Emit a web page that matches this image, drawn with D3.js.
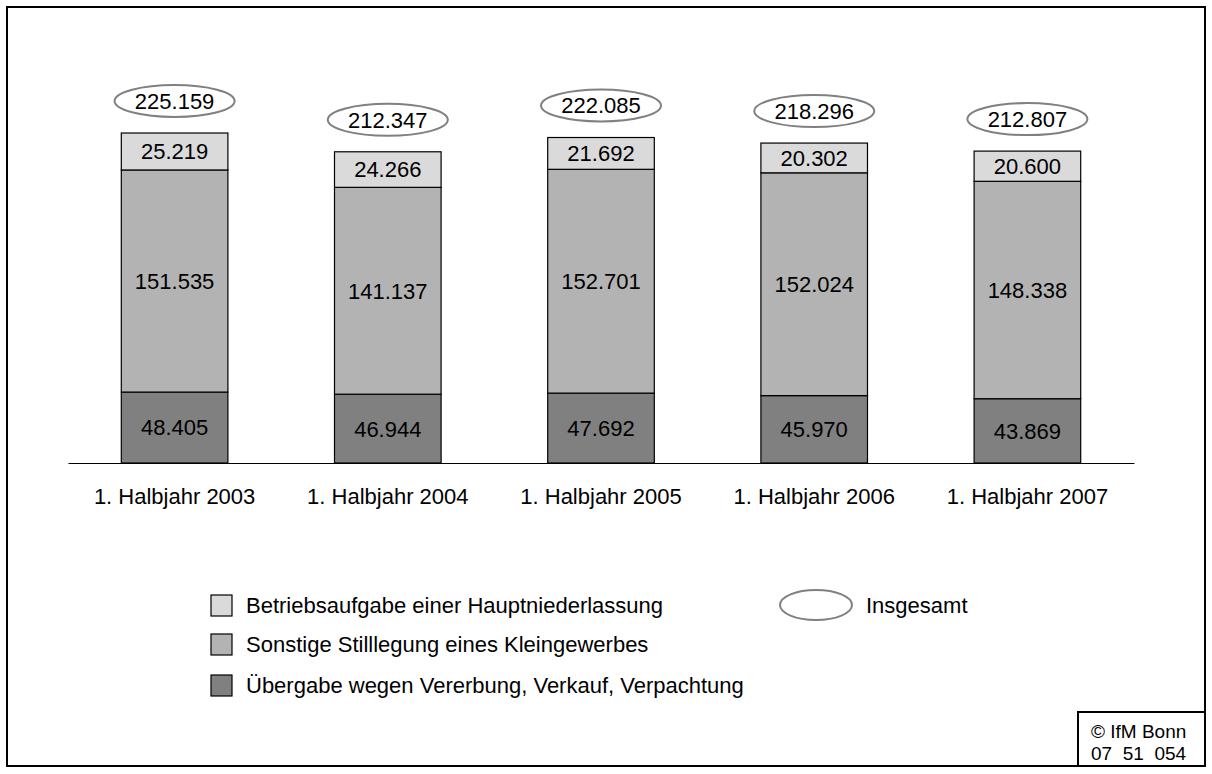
<!DOCTYPE html>
<html>
<head>
<meta charset="utf-8">
<script src="https://cdn.jsdelivr.net/npm/d3@7"></script>
<style>
  body { margin: 0; background: #fff; }
  text { font-family: "Liberation Sans", Arial, sans-serif; fill: #000; }
</style>
</head>
<body>
<div id="chart"></div>
<script>
// Gewerbeabmeldungen, 1. Halbjahr 2003-2007
var periods = ["1. Halbjahr 2003", "1. Halbjahr 2004", "1. Halbjahr 2005", "1. Halbjahr 2006", "1. Halbjahr 2007"];
var uebergabe = [48405, 46944, 47692, 45970, 43869];
var sonstige = [151535, 141137, 152701, 152024, 148338];
var betriebsaufgabe = [25219, 24266, 21692, 20302, 20600];
var insgesamt = [225159, 212347, 222085, 218296, 212807];

var seriesNames = ["Betriebsaufgabe einer Hauptniederlassung", "Sonstige Stilllegung eines Kleingewerbes", "Übergabe wegen Vererbung, Verkauf, Verpachtung"];
var colors = ["#dadada", "#b3b3b3", "#808080"];

var de = d3.formatLocale({decimal: ",", thousands: ".", grouping: [3], currency: ["", " €"]});
var fmt = de.format(",d");

var W = 1212, H = 774;
var FS = "22px";
var svg = d3.select("#chart").append("svg")
  .attr("width", W)
  .attr("height", H);

// Rahmen
svg.append("rect")
  .attr("x", 7).attr("y", 7)
  .attr("width", 1198).attr("height", 759)
  .attr("fill", "none").attr("stroke", "#000").attr("stroke-width", 2);

var x = d3.scaleBand()
  .domain(periods)
  .range([68, 1134])
  .paddingInner(0.5)
  .paddingOuter(0.25);

var y = d3.scaleLinear()
  .domain([0, 250000])
  .range([463, 463 - 366.4]);

// Stapel: unten Übergabe, dann Sonstige, oben Betriebsaufgabe
var rows = periods.map(function(p, i) {
  return {period: p, dark: uebergabe[i], mid: sonstige[i], light: betriebsaufgabe[i], total: insgesamt[i]};
});
var stack = d3.stack().keys(["dark", "mid", "light"]);
var layers = stack(rows);
var layerColor = {dark: colors[2], mid: colors[1], light: colors[0]};

var g = svg.append("g");

layers.forEach(function(layer) {
  var grp = g.append("g");
  grp.selectAll("rect")
    .data(layer)
    .enter().append("rect")
    .attr("x", d => x(d.data.period))
    .attr("y", d => y(d[1]))
    .attr("width", x.bandwidth())
    .attr("height", d => y(d[0]) - y(d[1]))
    .attr("fill", layerColor[layer.key])
    .attr("stroke", "#000")
    .attr("stroke-width", 1.2);

  grp.selectAll("text")
    .data(layer)
    .enter().append("text")
    .attr("x", d => x(d.data.period) + x.bandwidth() / 2)
    .attr("y", d => (y(d[0]) + y(d[1])) / 2)
    .attr("dy", "0.36em")
    .attr("text-anchor", "middle")
    .style("font-size", FS)
    .text(d => fmt(d[1] - d[0]));
});

// Insgesamt-Ellipsen
var tot = g.selectAll(".tot")
  .data(rows)
  .enter().append("g")
  .attr("class", "tot")
  .attr("transform", d => "translate(" + (x(d.period) + x.bandwidth() / 2) + "," + (y(d.total) - 32) + ")");

tot.append("ellipse")
  .attr("rx", 60).attr("ry", 16)
  .attr("fill", "#fff")
  .attr("stroke", "#808080")
  .attr("stroke-width", 2);

tot.append("text")
  .attr("text-anchor", "middle")
  .attr("dy", "0.36em")
  .style("font-size", FS)
  .text(d => fmt(d.total));

// Achse
var axis = d3.axisBottom(x).tickSize(0).tickPadding(25);
var ax = svg.append("g")
  .attr("transform", "translate(0,463)")
  .call(axis);
ax.select(".domain").attr("stroke", "#000").attr("stroke-width", 1.2);
ax.selectAll("text")
  .style("font-size", FS)
  .style("font-family", "'Liberation Sans', Arial, sans-serif")
  .attr("fill", "#000");

// Legende
var leg = svg.append("g");
var legY = [605, 644, 685];
seriesNames.forEach(function(name, i) {
  leg.append("rect")
    .attr("x", 211).attr("y", legY[i] - 10)
    .attr("width", 21).attr("height", 21)
    .attr("fill", colors[i])
    .attr("stroke", "#000")
    .attr("stroke-width", 1.2);
  leg.append("text")
    .attr("x", 246).attr("y", legY[i])
    .attr("dy", "0.36em")
    .style("font-size", FS)
    .text(name);
});
leg.append("ellipse")
  .attr("cx", 816).attr("cy", 605)
  .attr("rx", 36).attr("ry", 15)
  .attr("fill", "#fff")
  .attr("stroke", "#808080")
  .attr("stroke-width", 2);
leg.append("text")
  .attr("x", 866).attr("y", 605)
  .attr("dy", "0.36em")
  .style("font-size", FS)
  .text("Insgesamt");

// Copyright-Kasten
svg.append("rect")
  .attr("x", 1078).attr("y", 712)
  .attr("width", 127).attr("height", 54)
  .attr("fill", "#fff").attr("stroke", "#000").attr("stroke-width", 2);
svg.append("text")
  .attr("x", 1091).attr("y", 738)
  .style("font-size", "19px")
  .text("© IfM Bonn");
svg.append("text")
  .attr("x", 1091).attr("y", 760)
  .style("font-size", "19px")
  .style("white-space", "pre")
  .attr("xml:space", "preserve")
  .text("07  51  054");
</script>
</body>
</html>
